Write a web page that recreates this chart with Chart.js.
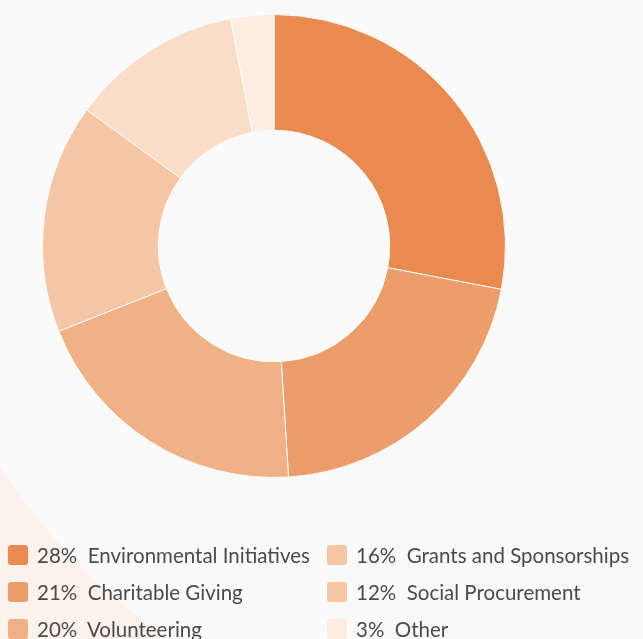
<!DOCTYPE html>
<html>
<head>
<meta charset="utf-8">
<script src="https://cdn.jsdelivr.net/npm/chart.js@4"></script>
<style>
  html, body { margin:0; padding:0; }
  body {
    width:643px; height:639px; overflow:hidden; position:relative;
    background: radial-gradient(circle at 520px 128px, #fafafa 0, #fafafa 620px, #fdf3ec 621px);
    font-family: Lato, "Open Sans", sans-serif;
  }
  #wrap { position:absolute; left:42px; top:14px; width:464px; height:464px; }
  #legend { position:absolute; left:0; top:0; width:643px; height:639px; }
  .item { position:absolute; display:flex; align-items:center; height:21px; font-size:20.5px; color:#4a4a4a; white-space:pre; }
  .sw { width:20px; height:20px; border-radius:3px; margin-right:9px; flex:none; }
</style>
</head>
<body>
<div id="wrap"><canvas id="c"></canvas></div>
<div id="legend"></div>
<script>
const labels = ["Environmental Initiatives", "Charitable Giving", "Volunteering", "Grants and Sponsorships", "Social Procurement", "Other"];
const values = [28, 21, 20, 16, 12, 3];
const sliceColors = ["#E98B4F", "#ED9D69", "#F0B187", "#F6C6A4", "#F9DDC8", "#FCEDE3"];
const legendColors = ["#E98B4F", "#ED9D69", "#F0B187", "#F6C6A4", "#F6C6A4", "#FCEDE3"];

const chart = new Chart(document.getElementById('c'), {
  type: 'doughnut',
  data: {
    labels: labels,
    datasets: [{
      data: values,
      backgroundColor: sliceColors,
      borderColor: '#fafafa',
      borderWidth: 1,
      hoverOffset: 0
    }]
  },
  options: {
    responsive: true,
    maintainAspectRatio: false,
    animation: false,
    cutout: '50%',
    layout: { padding: 0 },
    plugins: { legend: { display: false }, tooltip: { enabled: false } }
  }
});

// HTML legend built from the chart data (two columns, column-major)
const legend = document.getElementById('legend');
const colX = [8, 327];
const rowY = [544, 581, 618];
labels.forEach((lab, i) => {
  const col = Math.floor(i / 3), row = i % 3;
  const d = document.createElement('div');
  d.className = 'item';
  d.style.left = colX[col] + 'px';
  d.style.top = rowY[row] + 'px';
  const sw = document.createElement('span');
  sw.className = 'sw';
  sw.style.background = legendColors[i];
  const t = document.createElement('span');
  t.textContent = values[i] + '%  ' + lab;
  d.appendChild(sw); d.appendChild(t);
  legend.appendChild(d);
});
</script>
</body>
</html>
